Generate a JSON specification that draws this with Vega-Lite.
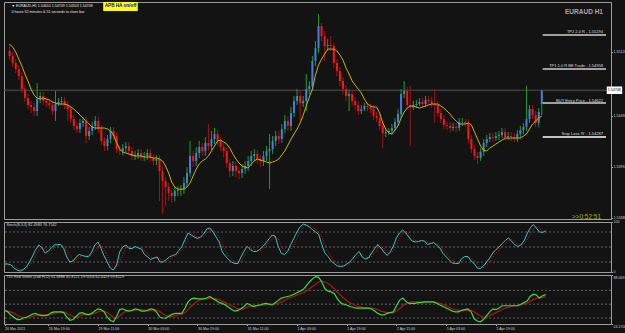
{
"$schema":"https://vega.github.io/schema/vega-lite/v6.json",
"padding":{"left":1,"top":1,"right":0,"bottom":2},
"background":"#131313",
"spacing":3,
"bounds":"flush",
"config":{
 "view":{"stroke":"#9c9c9c","strokeWidth":1},
 "axis":{"labelFont":"Liberation Sans","labelFontSize":3.6,"labelColor":"#d0d0d0","tickColor":"#9c9c9c","domainColor":"#9c9c9c","tickSize":1.5,"labelPadding":0.5,"grid":false,"labelOverlap":false,"labelFlush":false},
 "text":{"font":"Liberation Sans"}
},
"datasets":{
"levels":[
{"n":"TP2","p":1.55294,"t":"TP2 2.0 R - 1.55294"},
{"n":"TP1","p":1.54958,"t":"TP1 1.0 R BE Trade - 1.54958"},
{"n":"BUY","p":1.54622,"t":"BUY Entry Price - 1.54622"},
{"n":"SL","p":1.54287,"t":"Stop Loss 'R' - 1.54287"}
],
"bars":[
{"i":0,"o":1.55136,"h":1.55204,"l":1.55046,"c":1.55086,"m":1.55204,"k":16,"d":16,"g":42,"r":42},
{"i":1,"o":1.55086,"h":1.55126,"l":1.54977,"c":1.55017,"m":1.55174,"k":16,"d":16,"g":40,"r":41},
{"i":2,"o":1.55017,"h":1.55056,"l":1.54918,"c":1.54957,"m":1.55126,"k":14,"d":15,"g":36,"r":40},
{"i":3,"o":1.54957,"h":1.54997,"l":1.54848,"c":1.54888,"m":1.55056,"k":8,"d":13,"g":33,"r":38},
{"i":4,"o":1.54888,"h":1.54928,"l":1.54721,"c":1.54759,"m":1.54987,"k":4,"d":9,"g":30,"r":36},
{"i":5,"o":1.54759,"h":1.54799,"l":1.54632,"c":1.54671,"m":1.54908,"k":2,"d":5,"g":30,"r":34},
{"i":6,"o":1.54671,"h":1.54711,"l":1.54562,"c":1.54602,"m":1.54839,"k":5,"d":4,"g":32,"r":33},
{"i":7,"o":1.54602,"h":1.54642,"l":1.54523,"c":1.54582,"m":1.54759,"k":10,"d":6,"g":33,"r":33},
{"i":8,"o":1.54582,"h":1.54622,"l":1.54493,"c":1.54543,"m":1.54701,"k":20,"d":12,"g":35,"r":33},
{"i":9,"o":1.54543,"h":1.54819,"l":1.54493,"c":1.54661,"m":1.54671,"k":32,"d":21,"g":37,"r":34},
{"i":10,"o":1.54661,"h":1.54731,"l":1.54622,"c":1.54691,"m":1.54661,"k":45,"d":32,"g":38,"r":35},
{"i":11,"o":1.54691,"h":1.54731,"l":1.54602,"c":1.54642,"m":1.54671,"k":54,"d":44,"g":36,"r":36},
{"i":12,"o":1.54642,"h":1.54681,"l":1.54582,"c":1.54622,"m":1.54661,"k":48,"d":49,"g":35,"r":36},
{"i":13,"o":1.54622,"h":1.54661,"l":1.54562,"c":1.54602,"m":1.54651,"k":38,"d":47,"g":35,"r":36},
{"i":14,"o":1.54602,"h":1.54642,"l":1.54503,"c":1.54543,"m":1.54632,"k":42,"d":43,"g":36,"r":36},
{"i":15,"o":1.54543,"h":1.54741,"l":1.54445,"c":1.54612,"m":1.54622,"k":48,"d":43,"g":39,"r":37},
{"i":16,"o":1.54612,"h":1.54671,"l":1.54592,"c":1.54632,"m":1.54612,"k":54,"d":48,"g":40,"r":38},
{"i":17,"o":1.54632,"h":1.54681,"l":1.54602,"c":1.54642,"m":1.54612,"k":55,"d":52,"g":40,"r":39},
{"i":18,"o":1.54642,"h":1.54681,"l":1.54562,"c":1.54602,"m":1.54612,"k":55,"d":55,"g":40,"r":40},
{"i":19,"o":1.54602,"h":1.54642,"l":1.54445,"c":1.54562,"m":1.54602,"k":47,"d":52,"g":39,"r":40},
{"i":20,"o":1.54562,"h":1.54602,"l":1.54425,"c":1.54463,"m":1.54582,"k":30,"d":44,"g":33,"r":38},
{"i":21,"o":1.54463,"h":1.54503,"l":1.54355,"c":1.54395,"m":1.54562,"k":20,"d":32,"g":29,"r":36},
{"i":22,"o":1.54395,"h":1.54435,"l":1.54326,"c":1.54365,"m":1.54533,"k":22,"d":24,"g":30,"r":34},
{"i":23,"o":1.54365,"h":1.54463,"l":1.54326,"c":1.54425,"m":1.54503,"k":30,"d":24,"g":34,"r":33},
{"i":24,"o":1.54425,"h":1.54483,"l":1.54385,"c":1.54445,"m":1.54473,"k":35,"d":29,"g":38,"r":34},
{"i":25,"o":1.54445,"h":1.54483,"l":1.54227,"c":1.54296,"m":1.54445,"k":33,"d":33,"g":39,"r":36},
{"i":26,"o":1.54296,"h":1.54385,"l":1.54256,"c":1.54346,"m":1.54415,"k":31,"d":33,"g":37,"r":37},
{"i":27,"o":1.54346,"h":1.54435,"l":1.54306,"c":1.54395,"m":1.54385,"k":31,"d":32,"g":36,"r":37},
{"i":28,"o":1.54395,"h":1.54493,"l":1.54355,"c":1.54445,"m":1.54375,"k":40,"d":34,"g":38,"r":37},
{"i":29,"o":1.54445,"h":1.54483,"l":1.54326,"c":1.54365,"m":1.54375,"k":54,"d":42,"g":41,"r":38},
{"i":30,"o":1.54365,"h":1.54405,"l":1.54207,"c":1.54247,"m":1.54375,"k":60,"d":51,"g":44,"r":40},
{"i":31,"o":1.54247,"h":1.54286,"l":1.54149,"c":1.54197,"m":1.54375,"k":47,"d":54,"g":43,"r":41},
{"i":32,"o":1.54197,"h":1.54306,"l":1.54157,"c":1.54266,"m":1.54365,"k":32,"d":46,"g":40,"r":41},
{"i":33,"o":1.54266,"h":1.54385,"l":1.54227,"c":1.54346,"m":1.54346,"k":20,"d":33,"g":33,"r":39},
{"i":34,"o":1.54346,"h":1.54385,"l":1.54256,"c":1.54296,"m":1.54306,"k":8,"d":20,"g":29,"r":36},
{"i":35,"o":1.54296,"h":1.54336,"l":1.54129,"c":1.54167,"m":1.54227,"k":4,"d":11,"g":27,"r":33},
{"i":36,"o":1.54167,"h":1.54207,"l":1.54109,"c":1.54149,"m":1.54167,"k":14,"d":9,"g":34,"r":32},
{"i":37,"o":1.54149,"h":1.54217,"l":1.54109,"c":1.54177,"m":1.54139,"k":40,"d":19,"g":43,"r":35},
{"i":38,"o":1.54177,"h":1.54237,"l":1.54139,"c":1.54197,"m":1.54129,"k":50,"d":35,"g":44,"r":38},
{"i":39,"o":1.54197,"h":1.54237,"l":1.54109,"c":1.54149,"m":1.54119,"k":54,"d":48,"g":42,"r":41},
{"i":40,"o":1.54149,"h":1.54187,"l":1.54059,"c":1.54099,"m":1.54109,"k":47,"d":50,"g":41,"r":42},
{"i":41,"o":1.54099,"h":1.54149,"l":1.54059,"c":1.54109,"m":1.54099,"k":47,"d":49,"g":42,"r":42},
{"i":42,"o":1.54109,"h":1.54167,"l":1.54069,"c":1.54129,"m":1.54099,"k":51,"d":48,"g":44,"r":42},
{"i":43,"o":1.54129,"h":1.54167,"l":1.5405,"c":1.54089,"m":1.54099,"k":48,"d":49,"g":43,"r":43},
{"i":44,"o":1.54089,"h":1.54139,"l":1.5405,"c":1.54099,"m":1.54089,"k":46,"d":48,"g":41,"r":43},
{"i":45,"o":1.54099,"h":1.54167,"l":1.54059,"c":1.54129,"m":1.54089,"k":35,"d":43,"g":41,"r":42},
{"i":46,"o":1.54129,"h":1.54167,"l":1.5404,"c":1.54079,"m":1.54089,"k":30,"d":37,"g":42,"r":42},
{"i":47,"o":1.54079,"h":1.54119,"l":1.5401,"c":1.5405,"m":1.54079,"k":25,"d":30,"g":44,"r":42},
{"i":48,"o":1.5405,"h":1.54109,"l":1.5401,"c":1.54069,"m":1.54079,"k":28,"d":28,"g":43,"r":43},
{"i":49,"o":1.54069,"h":1.54109,"l":1.53655,"c":1.53951,"m":1.54069,"k":30,"d":28,"g":39,"r":42},
{"i":50,"o":1.53951,"h":1.5399,"l":1.53526,"c":1.53852,"m":1.5405,"k":20,"d":26,"g":33,"r":40},
{"i":51,"o":1.53852,"h":1.53891,"l":1.53606,"c":1.53792,"m":1.54,"k":20,"d":23,"g":32,"r":37},
{"i":52,"o":1.53792,"h":1.53832,"l":1.53655,"c":1.53734,"m":1.53931,"k":25,"d":22,"g":32,"r":35},
{"i":53,"o":1.53734,"h":1.53772,"l":1.53635,"c":1.53704,"m":1.53842,"k":30,"d":25,"g":35,"r":34},
{"i":54,"o":1.53704,"h":1.53792,"l":1.53655,"c":1.53754,"m":1.53792,"k":33,"d":29,"g":37,"r":34},
{"i":55,"o":1.53754,"h":1.53802,"l":1.53704,"c":1.53762,"m":1.53772,"k":35,"d":33,"g":38,"r":35},
{"i":56,"o":1.53762,"h":1.53812,"l":1.53704,"c":1.53772,"m":1.53772,"k":43,"d":37,"g":38,"r":36},
{"i":57,"o":1.53772,"h":1.53891,"l":1.53724,"c":1.53832,"m":1.53772,"k":51,"d":43,"g":38,"r":37},
{"i":58,"o":1.53832,"h":1.5399,"l":1.53792,"c":1.53931,"m":1.53792,"k":65,"d":53,"g":45,"r":39},
{"i":59,"o":1.53931,"h":1.54247,"l":1.53891,"c":1.54099,"m":1.53832,"k":78,"d":65,"g":53,"r":43},
{"i":60,"o":1.54099,"h":1.54149,"l":1.5399,"c":1.5405,"m":1.53901,"k":74,"d":72,"g":57,"r":47},
{"i":61,"o":1.5405,"h":1.54187,"l":1.54,"c":1.54129,"m":1.5397,"k":70,"d":74,"g":58,"r":51},
{"i":62,"o":1.54129,"h":1.54247,"l":1.54079,"c":1.54187,"m":1.5402,"k":67,"d":70,"g":57,"r":54},
{"i":63,"o":1.54187,"h":1.54227,"l":1.54099,"c":1.54149,"m":1.5405,"k":70,"d":69,"g":57,"r":56},
{"i":64,"o":1.54149,"h":1.54286,"l":1.54099,"c":1.54227,"m":1.54069,"k":76,"d":71,"g":57,"r":57},
{"i":65,"o":1.54227,"h":1.54415,"l":1.54149,"c":1.54197,"m":1.54099,"k":86,"d":77,"g":58,"r":57},
{"i":66,"o":1.54197,"h":1.54346,"l":1.54157,"c":1.54266,"m":1.54149,"k":88,"d":83,"g":60,"r":58},
{"i":67,"o":1.54266,"h":1.54375,"l":1.54217,"c":1.54316,"m":1.54197,"k":80,"d":85,"g":57,"r":58},
{"i":68,"o":1.54316,"h":1.54355,"l":1.54197,"c":1.54247,"m":1.54247,"k":70,"d":79,"g":55,"r":57},
{"i":69,"o":1.54247,"h":1.54286,"l":1.54149,"c":1.54187,"m":1.54256,"k":60,"d":70,"g":52,"r":56},
{"i":70,"o":1.54187,"h":1.54227,"l":1.54089,"c":1.54149,"m":1.54237,"k":40,"d":57,"g":51,"r":54},
{"i":71,"o":1.54149,"h":1.54187,"l":1.5398,"c":1.5403,"m":1.54217,"k":32,"d":44,"g":49,"r":52},
{"i":72,"o":1.5403,"h":1.54069,"l":1.53891,"c":1.53951,"m":1.54177,"k":25,"d":32,"g":46,"r":50},
{"i":73,"o":1.53951,"h":1.5405,"l":1.53901,"c":1.54,"m":1.54119,"k":20,"d":26,"g":43,"r":48},
{"i":74,"o":1.54,"h":1.5404,"l":1.53891,"c":1.53951,"m":1.54069,"k":17,"d":21,"g":41,"r":46},
{"i":75,"o":1.53951,"h":1.5399,"l":1.53871,"c":1.53931,"m":1.5403,"k":17,"d":18,"g":42,"r":44},
{"i":76,"o":1.53931,"h":1.5402,"l":1.53881,"c":1.5397,"m":1.54,"k":30,"d":21,"g":44,"r":44},
{"i":77,"o":1.5397,"h":1.5405,"l":1.53921,"c":1.54,"m":1.5399,"k":42,"d":30,"g":47,"r":44},
{"i":78,"o":1.54,"h":1.54099,"l":1.53951,"c":1.5405,"m":1.5398,"k":51,"d":41,"g":51,"r":46},
{"i":79,"o":1.5405,"h":1.54149,"l":1.54,"c":1.54099,"m":1.5402,"k":45,"d":46,"g":49,"r":47},
{"i":80,"o":1.54099,"h":1.54167,"l":1.5405,"c":1.54119,"m":1.5405,"k":41,"d":46,"g":47,"r":48},
{"i":81,"o":1.54119,"h":1.54157,"l":1.5402,"c":1.54069,"m":1.54069,"k":41,"d":42,"g":48,"r":48},
{"i":82,"o":1.54069,"h":1.54109,"l":1.5399,"c":1.5405,"m":1.54059,"k":45,"d":42,"g":49,"r":48},
{"i":83,"o":1.5405,"h":1.54149,"l":1.54,"c":1.54099,"m":1.5405,"k":51,"d":46,"g":50,"r":49},
{"i":84,"o":1.54099,"h":1.54197,"l":1.5405,"c":1.54149,"m":1.5404,"k":58,"d":51,"g":51,"r":49},
{"i":85,"o":1.54149,"h":1.54316,"l":1.53772,"c":1.54167,"m":1.5403,"k":66,"d":58,"g":50,"r":50},
{"i":86,"o":1.54167,"h":1.54296,"l":1.54119,"c":1.54247,"m":1.5404,"k":74,"d":66,"g":49,"r":50},
{"i":87,"o":1.54247,"h":1.54346,"l":1.54197,"c":1.54296,"m":1.5405,"k":72,"d":71,"g":52,"r":50},
{"i":88,"o":1.54296,"h":1.54346,"l":1.54217,"c":1.54266,"m":1.54069,"k":51,"d":66,"g":55,"r":51},
{"i":89,"o":1.54266,"h":1.54415,"l":1.54227,"c":1.54365,"m":1.54109,"k":37,"d":53,"g":58,"r":53},
{"i":90,"o":1.54365,"h":1.54503,"l":1.54326,"c":1.54445,"m":1.54149,"k":35,"d":41,"g":59,"r":55},
{"i":91,"o":1.54445,"h":1.54493,"l":1.54346,"c":1.54395,"m":1.54207,"k":41,"d":38,"g":60,"r":57},
{"i":92,"o":1.54395,"h":1.54582,"l":1.54346,"c":1.54523,"m":1.54266,"k":55,"d":44,"g":61,"r":59},
{"i":93,"o":1.54523,"h":1.54691,"l":1.54483,"c":1.54642,"m":1.54316,"k":67,"d":54,"g":63,"r":60},
{"i":94,"o":1.54642,"h":1.54759,"l":1.54602,"c":1.54691,"m":1.54365,"k":80,"d":67,"g":65,"r":62},
{"i":95,"o":1.54691,"h":1.54741,"l":1.54445,"c":1.54622,"m":1.54425,"k":90,"d":79,"g":67,"r":63},
{"i":96,"o":1.54622,"h":1.54691,"l":1.54582,"c":1.54642,"m":1.54503,"k":96,"d":89,"g":69,"r":65},
{"i":97,"o":1.54642,"h":1.54908,"l":1.54543,"c":1.54759,"m":1.54592,"k":94,"d":93,"g":74,"r":67},
{"i":98,"o":1.54759,"h":1.54839,"l":1.54711,"c":1.54789,"m":1.54681,"k":90,"d":93,"g":79,"r":70},
{"i":99,"o":1.54789,"h":1.55086,"l":1.54741,"c":1.55037,"m":1.54759,"k":85,"d":90,"g":83,"r":73},
{"i":100,"o":1.55037,"h":1.55234,"l":1.54987,"c":1.55164,"m":1.54898,"k":80,"d":85,"g":86,"r":76},
{"i":101,"o":1.55164,"h":1.555,"l":1.55116,"c":1.55382,"m":1.54997,"k":75,"d":80,"g":85,"r":79},
{"i":102,"o":1.55382,"h":1.55412,"l":1.55234,"c":1.55283,"m":1.55056,"k":55,"d":70,"g":79,"r":80},
{"i":103,"o":1.55283,"h":1.55333,"l":1.55037,"c":1.55184,"m":1.55106,"k":38,"d":56,"g":70,"r":79},
{"i":104,"o":1.55184,"h":1.55254,"l":1.55136,"c":1.55194,"m":1.55154,"k":31,"d":41,"g":67,"r":77},
{"i":105,"o":1.55194,"h":1.55283,"l":1.55136,"c":1.55184,"m":1.55154,"k":22,"d":30,"g":66,"r":74},
{"i":106,"o":1.55184,"h":1.55214,"l":1.54967,"c":1.55017,"m":1.55154,"k":17,"d":23,"g":64,"r":70},
{"i":107,"o":1.55017,"h":1.55056,"l":1.54888,"c":1.54938,"m":1.55136,"k":12,"d":17,"g":57,"r":66},
{"i":108,"o":1.54938,"h":1.54977,"l":1.54789,"c":1.54839,"m":1.55096,"k":11,"d":13,"g":52,"r":62},
{"i":109,"o":1.54839,"h":1.54878,"l":1.54711,"c":1.54759,"m":1.55046,"k":12,"d":12,"g":50,"r":58},
{"i":110,"o":1.54759,"h":1.54799,"l":1.54642,"c":1.54691,"m":1.54967,"k":16,"d":13,"g":49,"r":55},
{"i":111,"o":1.54691,"h":1.54749,"l":1.54543,"c":1.54711,"m":1.54908,"k":20,"d":16,"g":47,"r":52},
{"i":112,"o":1.54711,"h":1.54749,"l":1.54592,"c":1.54642,"m":1.54839,"k":27,"d":21,"g":46,"r":50},
{"i":113,"o":1.54642,"h":1.54681,"l":1.54552,"c":1.54602,"m":1.54799,"k":35,"d":27,"g":45,"r":48},
{"i":114,"o":1.54602,"h":1.54642,"l":1.54503,"c":1.54543,"m":1.54759,"k":41,"d":34,"g":45,"r":47},
{"i":115,"o":1.54543,"h":1.54602,"l":1.54513,"c":1.54562,"m":1.54721,"k":30,"d":35,"g":45,"r":46},
{"i":116,"o":1.54562,"h":1.54622,"l":1.54543,"c":1.54592,"m":1.54661,"k":26,"d":32,"g":45,"r":45},
{"i":117,"o":1.54592,"h":1.54622,"l":1.54543,"c":1.54582,"m":1.54612,"k":28,"d":28,"g":45,"r":45},
{"i":118,"o":1.54582,"h":1.54612,"l":1.54523,"c":1.54562,"m":1.54592,"k":38,"d":31,"g":44,"r":45},
{"i":119,"o":1.54562,"h":1.54602,"l":1.54453,"c":1.54493,"m":1.54582,"k":47,"d":38,"g":41,"r":44},
{"i":120,"o":1.54493,"h":1.54533,"l":1.54435,"c":1.54473,"m":1.54582,"k":55,"d":47,"g":38,"r":43},
{"i":121,"o":1.54473,"h":1.54513,"l":1.54355,"c":1.54395,"m":1.54523,"k":48,"d":50,"g":36,"r":41},
{"i":122,"o":1.54395,"h":1.54435,"l":1.54177,"c":1.54326,"m":1.54425,"k":40,"d":48,"g":36,"r":40},
{"i":123,"o":1.54326,"h":1.54365,"l":1.54286,"c":1.54336,"m":1.54365,"k":33,"d":40,"g":38,"r":39},
{"i":124,"o":1.54336,"h":1.54375,"l":1.54306,"c":1.54346,"m":1.54326,"k":40,"d":38,"g":39,"r":39},
{"i":125,"o":1.54346,"h":1.54415,"l":1.54306,"c":1.54375,"m":1.54316,"k":52,"d":42,"g":40,"r":39},
{"i":126,"o":1.54375,"h":1.54473,"l":1.54346,"c":1.54435,"m":1.54355,"k":68,"d":53,"g":48,"r":41},
{"i":127,"o":1.54435,"h":1.54562,"l":1.54395,"c":1.54513,"m":1.54395,"k":78,"d":66,"g":55,"r":44},
{"i":128,"o":1.54513,"h":1.54759,"l":1.54473,"c":1.54711,"m":1.54473,"k":84,"d":77,"g":58,"r":48},
{"i":129,"o":1.54711,"h":1.54839,"l":1.54671,"c":1.54741,"m":1.54533,"k":78,"d":80,"g":54,"r":51},
{"i":130,"o":1.54741,"h":1.54779,"l":1.54562,"c":1.54602,"m":1.54572,"k":70,"d":77,"g":51,"r":52},
{"i":131,"o":1.54602,"h":1.54789,"l":1.54197,"c":1.54582,"m":1.54592,"k":62,"d":70,"g":51,"r":53},
{"i":132,"o":1.54582,"h":1.54642,"l":1.54552,"c":1.54602,"m":1.54592,"k":60,"d":64,"g":51,"r":53},
{"i":133,"o":1.54602,"h":1.54651,"l":1.54572,"c":1.54612,"m":1.54582,"k":61,"d":61,"g":52,"r":53},
{"i":134,"o":1.54612,"h":1.54671,"l":1.54592,"c":1.54632,"m":1.54572,"k":63,"d":61,"g":52,"r":53},
{"i":135,"o":1.54632,"h":1.54671,"l":1.54572,"c":1.54612,"m":1.54582,"k":62,"d":62,"g":53,"r":53},
{"i":136,"o":1.54612,"h":1.54691,"l":1.54582,"c":1.54651,"m":1.54592,"k":55,"d":60,"g":53,"r":53},
{"i":137,"o":1.54651,"h":1.54691,"l":1.54602,"c":1.54642,"m":1.54602,"k":57,"d":58,"g":53,"r":53},
{"i":138,"o":1.54642,"h":1.54681,"l":1.54572,"c":1.54612,"m":1.54612,"k":59,"d":57,"g":53,"r":53},
{"i":139,"o":1.54612,"h":1.54759,"l":1.54425,"c":1.54602,"m":1.54612,"k":53,"d":56,"g":51,"r":52},
{"i":140,"o":1.54602,"h":1.54642,"l":1.54483,"c":1.54523,"m":1.54612,"k":48,"d":53,"g":49,"r":51},
{"i":141,"o":1.54523,"h":1.54562,"l":1.54425,"c":1.54463,"m":1.54592,"k":37,"d":46,"g":47,"r":50},
{"i":142,"o":1.54463,"h":1.54503,"l":1.54365,"c":1.54405,"m":1.54572,"k":30,"d":38,"g":45,"r":48},
{"i":143,"o":1.54405,"h":1.54445,"l":1.54355,"c":1.54395,"m":1.54543,"k":24,"d":30,"g":43,"r":46},
{"i":144,"o":1.54395,"h":1.54435,"l":1.54336,"c":1.54375,"m":1.54513,"k":18,"d":24,"g":41,"r":44},
{"i":145,"o":1.54375,"h":1.54425,"l":1.54346,"c":1.54385,"m":1.54473,"k":17,"d":20,"g":40,"r":43},
{"i":146,"o":1.54385,"h":1.54425,"l":1.54336,"c":1.54375,"m":1.54445,"k":17,"d":17,"g":40,"r":42},
{"i":147,"o":1.54375,"h":1.54473,"l":1.54346,"c":1.54435,"m":1.54415,"k":27,"d":20,"g":42,"r":42},
{"i":148,"o":1.54435,"h":1.54473,"l":1.54395,"c":1.54435,"m":1.54415,"k":31,"d":25,"g":43,"r":42},
{"i":149,"o":1.54435,"h":1.54463,"l":1.54385,"c":1.54425,"m":1.54415,"k":31,"d":30,"g":44,"r":42},
{"i":150,"o":1.54425,"h":1.54463,"l":1.54227,"c":1.54266,"m":1.54425,"k":22,"d":28,"g":40,"r":42},
{"i":151,"o":1.54266,"h":1.54306,"l":1.54129,"c":1.54167,"m":1.54405,"k":17,"d":23,"g":31,"r":40},
{"i":152,"o":1.54167,"h":1.54207,"l":1.54059,"c":1.54099,"m":1.54336,"k":8,"d":16,"g":28,"r":37},
{"i":153,"o":1.54099,"h":1.54139,"l":1.5402,"c":1.54079,"m":1.54266,"k":7,"d":11,"g":27,"r":35},
{"i":154,"o":1.54079,"h":1.54177,"l":1.5405,"c":1.54139,"m":1.54197,"k":12,"d":9,"g":30,"r":33},
{"i":155,"o":1.54139,"h":1.54266,"l":1.54099,"c":1.54227,"m":1.54157,"k":20,"d":13,"g":35,"r":33},
{"i":156,"o":1.54227,"h":1.54306,"l":1.54187,"c":1.54266,"m":1.54149,"k":28,"d":20,"g":40,"r":35},
{"i":157,"o":1.54266,"h":1.54326,"l":1.54237,"c":1.54286,"m":1.54177,"k":38,"d":29,"g":44,"r":37},
{"i":158,"o":1.54286,"h":1.54326,"l":1.54237,"c":1.54276,"m":1.54197,"k":45,"d":37,"g":43,"r":39},
{"i":159,"o":1.54276,"h":1.54336,"l":1.54247,"c":1.54296,"m":1.54217,"k":50,"d":44,"g":45,"r":41},
{"i":160,"o":1.54296,"h":1.54346,"l":1.54256,"c":1.54306,"m":1.54237,"k":57,"d":51,"g":48,"r":43},
{"i":161,"o":1.54306,"h":1.54375,"l":1.54276,"c":1.54336,"m":1.54256,"k":63,"d":57,"g":48,"r":45},
{"i":162,"o":1.54336,"h":1.54375,"l":1.54247,"c":1.54286,"m":1.54276,"k":68,"d":63,"g":48,"r":46},
{"i":163,"o":1.54286,"h":1.54336,"l":1.54256,"c":1.54296,"m":1.54276,"k":62,"d":64,"g":48,"r":47},
{"i":164,"o":1.54296,"h":1.54336,"l":1.54247,"c":1.54286,"m":1.54276,"k":55,"d":62,"g":48,"r":48},
{"i":165,"o":1.54286,"h":1.54326,"l":1.54237,"c":1.54276,"m":1.54276,"k":51,"d":56,"g":48,"r":48},
{"i":166,"o":1.54276,"h":1.54355,"l":1.54237,"c":1.54316,"m":1.54276,"k":54,"d":53,"g":50,"r":49},
{"i":167,"o":1.54316,"h":1.54395,"l":1.54276,"c":1.54355,"m":1.54276,"k":62,"d":56,"g":52,"r":50},
{"i":168,"o":1.54355,"h":1.54425,"l":1.54316,"c":1.54385,"m":1.54296,"k":76,"d":64,"g":54,"r":51},
{"i":169,"o":1.54385,"h":1.54789,"l":1.54346,"c":1.54463,"m":1.54316,"k":88,"d":75,"g":60,"r":54},
{"i":170,"o":1.54463,"h":1.54602,"l":1.54425,"c":1.54562,"m":1.54365,"k":95,"d":86,"g":63,"r":56},
{"i":171,"o":1.54562,"h":1.54602,"l":1.54463,"c":1.54503,"m":1.54415,"k":88,"d":90,"g":62,"r":58},
{"i":172,"o":1.54503,"h":1.54543,"l":1.54385,"c":1.54425,"m":1.54445,"k":80,"d":88,"g":58,"r":58},
{"i":173,"o":1.54425,"h":1.54572,"l":1.54385,"c":1.54533,"m":1.54473,"k":79,"d":82,"g":61,"r":59},
{"i":174,"o":1.5461,"h":1.54749,"l":1.54503,"c":1.54748,"m":1.54493,"k":82.4983,"d":76.7542,"g":62.4,"r":59.8}
]
},
"vconcat":[
{
"width":607,"height":217,
"layer":[
 {"data":{"values":[{}]},"mark":{"type":"rule","color":"#4e4e4e","strokeWidth":1},
  "encoding":{"y":{"datum":1.54748,"type":"quantitative","scale":{"domain":[1.53477,1.55619],"nice":false,"zero":false},
   "axis":{"orient":"right","title":null,"format":".5f","values":[1.55504,1.55378,1.55252,1.55126,1.55,1.54874,1.54622,1.54496,1.5437,1.54244,1.54118,1.53992,1.53866,1.5374,1.53614,1.53488]}}}},
 {"data":{"name":"bars"},"mark":{"type":"rule","strokeWidth":1},
  "encoding":{"x":{"field":"i","type":"quantitative","scale":{"domain":[-0.2,195],"nice":false,"zero":false},"axis":null},
   "y":{"field":"l","type":"quantitative"},
   "y2":{"field":"h"},
   "color":{"condition":{"test":"datum.c>=datum.o","value":"#1f9f1f"},"value":"#a51212"}}},
 {"data":{"name":"bars"},"mark":{"type":"bar","size":2},
  "encoding":{"x":{"field":"i","type":"quantitative"},
   "y":{"field":"o","type":"quantitative"},
   "y2":{"field":"c"},
   "color":{"condition":{"test":"datum.c>=datum.o","value":"#3f80e0"},"value":"#ff1414"}}},
 {"data":{"name":"bars"},"mark":{"type":"line","color":"#c9b400","strokeWidth":1},
  "encoding":{"x":{"field":"i","type":"quantitative"},
   "y":{"field":"m","type":"quantitative"}}},
 {"data":{"name":"levels"},"mark":{"type":"rule","strokeWidth":1.5},
  "encoding":{"x":{"datum":174.3,"type":"quantitative"},"x2":{"datum":195},
   "y":{"field":"p","type":"quantitative"},
   "color":{"condition":{"test":"datum.n=='SL'","value":"#ffffff"},"value":"#cfcfcf"}}},
 {"data":{"name":"levels"},"mark":{"type":"text","align":"right","baseline":"bottom","dy":-0.5,"fontSize":4,"color":"#dedede"},
  "encoding":{"x":{"datum":194,"type":"quantitative"},
   "y":{"field":"p","type":"quantitative"},
   "text":{"field":"t"}}},
 {"data":{"values":[{}]},"mark":{"type":"rect","color":"#ffff00"},
  "encoding":{"x":{"datum":30.6,"type":"quantitative"},"x2":{"datum":41.9},
   "y":{"datum":1.55619,"type":"quantitative"},"y2":{"datum":1.5553}}},
 {"data":{"values":[{}]},"mark":{"type":"text","align":"center","baseline":"middle","fontSize":4.6,"fontWeight":"bold","color":"#0000e0","text":"APB HA  on/off"},
  "encoding":{"x":{"datum":36.25,"type":"quantitative"},
   "y":{"datum":1.55575,"type":"quantitative"}}},
 {"data":{"values":[{}]},"mark":{"type":"text","align":"left","baseline":"middle","fontSize":3.6,"color":"#e8e8e8","text":"\u25bc EURAUD,H1  1.54610 1.54749 1.54503 1.54748"},
  "encoding":{"x":{"datum":0.6,"type":"quantitative"},
   "y":{"datum":1.5558,"type":"quantitative"}}},
 {"data":{"values":[{}]},"mark":{"type":"text","align":"left","baseline":"middle","fontSize":3.6,"color":"#e8e8e8","text":"0 hours 52 minutes & 51 seconds to close bar"},
  "encoding":{"x":{"datum":0.6,"type":"quantitative"},
   "y":{"datum":1.5552,"type":"quantitative"}}},
 {"data":{"values":[{}]},"mark":{"type":"text","align":"right","baseline":"middle","fontSize":6.5,"fontWeight":"bold","color":"#a9a9a9","text":"EURAUD H1"},
  "encoding":{"x":{"datum":194,"type":"quantitative"},
   "y":{"datum":1.5552,"type":"quantitative"}}},
 {"data":{"values":[{}]},"mark":{"type":"text","align":"right","baseline":"middle","fontSize":6.5,"color":"#a6a61e","text":">>0:52:51"},
  "encoding":{"x":{"datum":193.4,"type":"quantitative"},
   "y":{"datum":1.53497,"type":"quantitative"}}},
 {"data":{"values":[{}]},"mark":{"type":"rect","color":"#ffffff"},
  "encoding":{"x":{"datum":195.25,"type":"quantitative"},"x2":{"datum":200.3},
   "y":{"datum":1.54785,"type":"quantitative"},"y2":{"datum":1.54711}}},
 {"data":{"values":[{}]},"mark":{"type":"text","align":"left","baseline":"middle","fontSize":3.6,"color":"#000000","text":"1.54748"},
  "encoding":{"x":{"datum":195.6,"type":"quantitative"},
   "y":{"datum":1.54748,"type":"quantitative"}}}
]
},
{
"width":607,"height":50,
"layer":[
 {"data":{"values":[{"v":80},{"v":50},{"v":20}]},"mark":{"type":"rule","color":"#606060","strokeDash":[2,2],"strokeWidth":1},
  "encoding":{"y":{"field":"v","type":"quantitative","scale":{"domain":[0,100],"nice":false,"zero":false},
   "axis":{"orient":"right","title":null,"values":[0,20,50,80,100],"labelBaseline":"alphabetic"}}}},
 {"data":{"name":"bars"},"mark":{"type":"line","color":"#d01818","strokeWidth":1,"strokeDash":[1,1.5]},
  "encoding":{"x":{"field":"i","type":"quantitative","scale":{"domain":[-0.2,195],"nice":false,"zero":false},"axis":null},
   "y":{"field":"d","type":"quantitative"}}},
 {"data":{"name":"bars"},"mark":{"type":"line","color":"#38c4c4","strokeWidth":1},
  "encoding":{"x":{"field":"i","type":"quantitative"},
   "y":{"field":"k","type":"quantitative"}}},
 {"data":{"values":[{}]},"mark":{"type":"text","align":"left","baseline":"middle","fontSize":3.8,"color":"#d8d8d8","text":"Stoch(8,3,3) 82.4983 76.7542"},
  "encoding":{"x":{"datum":0.6,"type":"quantitative"},
   "y":{"datum":95,"type":"quantitative"}}}
]
},
{
"width":607,"height":49,
"layer":[
 {"data":{"values":[{"v":68},{"v":50},{"v":32}]},"mark":{"type":"rule","color":"#606060","strokeDash":[2,2],"strokeWidth":1},
  "encoding":{"y":{"field":"v","type":"quantitative","scale":{"domain":[24.1708,88.0691],"nice":false,"zero":false},
   "axis":{"orient":"right","title":null,"values":[24.1708,32,50,68,88.0691],"labelExpr":"'' + datum.value","labelBaseline":"top"}}}},
 {"data":{"name":"bars"},"mark":{"type":"line","color":"#b01414","strokeWidth":1.2},
  "encoding":{"x":{"field":"i","type":"quantitative","scale":{"domain":[-0.2,195],"nice":false,"zero":false},
    "axis":{"orient":"bottom","title":null,"labelAlign":"left","labelFontSize":3.6,"labelOverlap":false,"values":[0,6,14,22,30,38,46,54,62,70,78,86,94,102,110,118,126,134,142,150,158,166],
     "labelExpr":"['26 Mar 2021','26 Mar 11:00','26 Mar 19:00','29 Mar 03:00','29 Mar 11:00','29 Mar 19:00','30 Mar 03:00','30 Mar 11:00','30 Mar 19:00','31 Mar 03:00','31 Mar 11:00','31 Mar 19:00','1 Apr 03:00','1 Apr 11:00','1 Apr 19:00','2 Apr 03:00','2 Apr 11:00','2 Apr 19:00','5 Apr 03:00','5 Apr 11:00','5 Apr 19:00','6 Apr 03:00'][datum.value == 0 ? 0 : (datum.value + 2) / 8]"}},
   "y":{"field":"r","type":"quantitative"}}},
 {"data":{"name":"bars"},"mark":{"type":"line","color":"#33e033","strokeWidth":1.2},
  "encoding":{"x":{"field":"i","type":"quantitative"},
   "y":{"field":"g","type":"quantitative"}}},
 {"data":{"values":[{}]},"mark":{"type":"text","align":"left","baseline":"middle","fontSize":3.8,"color":"#d8d8d8","text":"TDI Red Green (cod FLD) 61.6888 45.8121 29.5056 62.4429 59.8129"},
  "encoding":{"x":{"datum":0.6,"type":"quantitative"},
   "y":{"datum":85.5,"type":"quantitative"}}}
]
}
]
}
